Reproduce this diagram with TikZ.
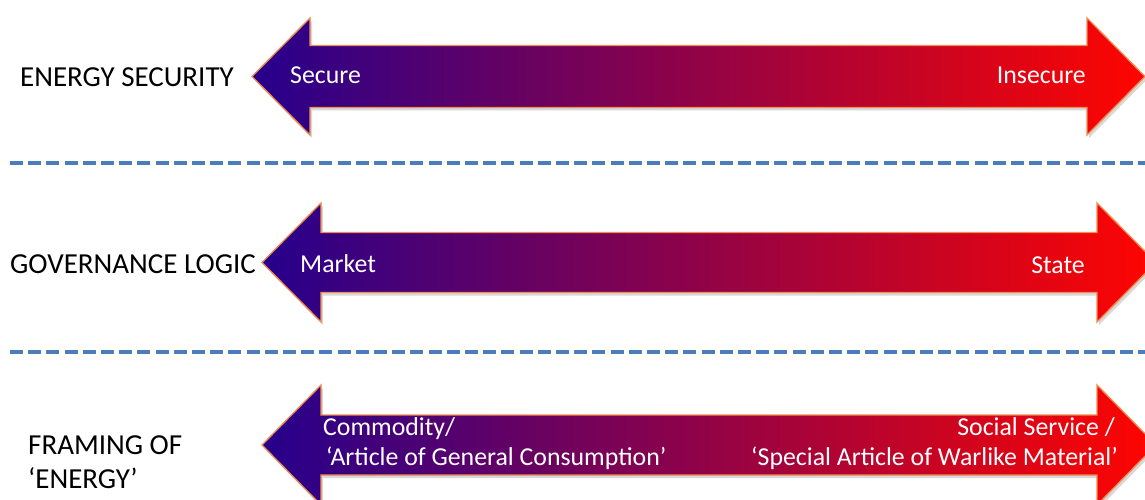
\documentclass[tikz,border=0pt]{standalone}
\usepackage{fontspec}
\setmainfont{Carlito}
\usetikzlibrary{shadows}

\definecolor{arrowblue}{RGB}{38,0,140}
\definecolor{arrowpurple}{RGB}{140,0,125}
\definecolor{arrowred}{RGB}{255,5,0}
\definecolor{arrowedge}{RGB}{240,140,80}
\definecolor{sepblue}{RGB}{74,126,187}

\tikzset{
  bigarrow/.style={draw=arrowedge, line width=1.3pt, line join=miter,
    left color=arrowblue, middle color=arrowpurple, right color=arrowred,
    drop shadow={shadow xshift=2pt, shadow yshift=-3pt, opacity=0.25, fill=black!60}},
  separator/.style={draw=sepblue, line width=4pt, dash pattern=on 13pt off 5.2pt},
  rowlabel/.style={inner sep=0pt, text=black, font=\fontsize{29}{35}\selectfont},
  endlabel/.style={inner sep=0pt, text=white, font=\fontsize{25.8}{31}\selectfont},
}

% double-headed arrow: #1 left tip x, #2 right tip x, #3 centre y,
% #4 half shaft height, #5 half head height, #6 head length
\newcommand\spanarrow[6]{%
  \path[bigarrow] (#1,#3) -- ({#1+#6},{#3-#5}) -- ({#1+#6},{#3-#4})
    -- ({#2-#6},{#3-#4}) -- ({#2-#6},{#3-#5}) -- (#2,#3)
    -- ({#2-#6},{#3+#5}) -- ({#2-#6},{#3+#4}) -- ({#1+#6},{#3+#4})
    -- ({#1+#6},{#3+#5}) -- cycle;}

\begin{document}
\begin{tikzpicture}[x=1pt, y=-1pt]
  \useasboundingbox (0,0) rectangle (1145,500);
  \clip (0,0) rectangle (1145,500);
  \fill[white] (0,0) rectangle (1145,500);

  % separators between the three rows
  \coordinate (sepAl) at (10,163);
  \coordinate (sepAr) at (1150,163);
  \coordinate (sepBl) at (10,352);
  \coordinate (sepBr) at (1150,352);
  \draw[separator] (sepAl) -- (sepAr);
  \draw[separator] (sepBl) -- (sepBr);

  % the three spectrum arrows
  \spanarrow{252}{1145}{76.5}{31}{58.5}{58}
  \spanarrow{262}{1156}{262.5}{30}{59.5}{59}
  \spanarrow{262}{1156}{445}{30}{60}{59}

  % row titles
  \node[rowlabel, anchor=base west] (secTitle) at (20,87) {ENERGY SECURITY};
  \node[rowlabel, anchor=base west] (govTitle) at (10,273) {GOVERNANCE LOGIC};
  \node[rowlabel, anchor=base west] (frameTitleA) at (28,454) {FRAMING OF};
  \node[rowlabel, anchor=base west] (frameTitleB) at (28,488) {‘ENERGY’};

  % arrow end labels
  \node[endlabel, anchor=base west] (secure) at (290,84) {Secure};
  \node[endlabel, anchor=base east] (insecure) at (1086,84) {Insecure};
  \node[endlabel, anchor=base west] (market) at (300,272) {Market};
  \node[endlabel, anchor=base east] (state) at (1085,273) {State};
  \node[endlabel, anchor=base west] (commodA) at (323,435) {Commodity/};
  \node[endlabel, anchor=base west] (commodB) at (326,465) {‘Article of General Consumption’};
  \node[endlabel, anchor=base east] (socialA) at (1115,435) {Social Service /};
  \node[endlabel, anchor=base east] (socialB) at (1118,465) {‘Special Article of Warlike Material’};
\end{tikzpicture}
\end{document}
